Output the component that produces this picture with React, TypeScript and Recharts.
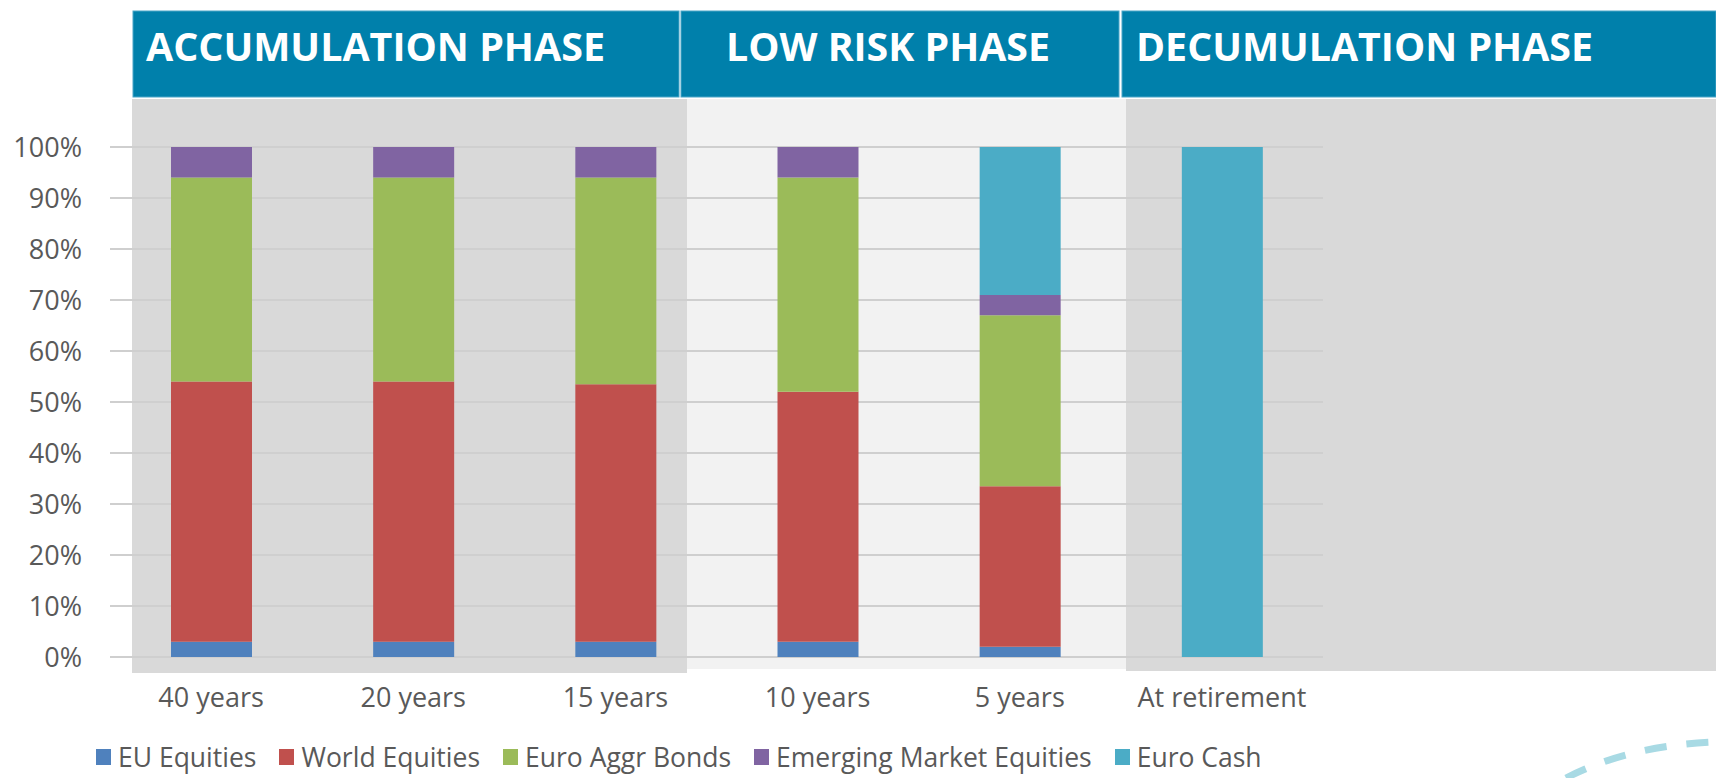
import React from 'react';
import { BarChart, Bar, XAxis, YAxis, CartesianGrid, Legend } from 'recharts';

const categories = ['40 years', '20 years', '15 years', '10 years', '5 years', 'At retirement'];
const euEquities = [3, 3, 3, 3, 2, 0];
const worldEquities = [51, 51, 50.5, 49, 31.5, 0];
const euroAggrBonds = [40, 40, 40.5, 42, 33.5, 0];
const emergingMarketEquities = [6, 6, 6, 6, 4, 0];
const euroCash = [0, 0, 0, 0, 29, 100];
const yTicks = [0, 10, 20, 30, 40, 50, 60, 70, 80, 90, 100];

const phases = [
    { label: 'ACCUMULATION PHASE', x: 133, w: 546, tx: 146, tw: 459 },
    { label: 'LOW RISK PHASE', x: 681, w: 438, tx: 726, tw: 324 },
    { label: 'DECUMULATION PHASE', x: 1122, w: 594, tx: 1136, tw: 457 },
];

const series = [
    { key: 'eu', name: 'EU Equities', color: '#4f81bd' },
    { key: 'world', name: 'World Equities', color: '#c0504d' },
    { key: 'bonds', name: 'Euro Aggr Bonds', color: '#9bbb59' },
    { key: 'em', name: 'Emerging Market Equities', color: '#8064a2' },
    { key: 'cash', name: 'Euro Cash', color: '#4bacc6' },
];

const data = categories.map((name, i) => ({
    name,
    eu: euEquities[i],
    world: worldEquities[i],
    bonds: euroAggrBonds[i],
    em: emergingMarketEquities[i],
    cash: euroCash[i],
}));

const FONT = '"Open Sans", sans-serif';

function LegendContent(props: any) {
    // keep the series order (recharts sorts the payload by name)
    const items = [...(props.payload || [])].sort(
        (a: any, b: any) => series.findIndex((s) => s.name === a.value) - series.findIndex((s) => s.name === b.value)
    );
    return (
        <div style={{ display: 'flex', alignItems: 'center', fontFamily: FONT, fontSize: 26.5, color: '#595959' }}>
            {items.map((p: any) => (
                <div key={p.value} style={{ display: 'flex', alignItems: 'center', marginRight: 23 }}>
                    <span style={{ display: 'inline-block', width: 15, height: 16, background: p.color, marginRight: 7 }} />
                    <span>{p.value}</span>
                </div>
            ))}
        </div>
    );
}

export default function App() {
    return (
        <div style={{ position: 'absolute', left: 0, top: 0, width: 1716, height: 778, background: '#fff', overflow: 'hidden' }}>
            {/* phase backgrounds and headers */}
            <svg width={1716} height={778} style={{ position: 'absolute', left: 0, top: 0 }}>
                <rect x={132} y={99} width={555} height={574} fill="#d9d9d9" />
                <rect x={687} y={99} width={439} height={570} fill="#f2f2f2" />
                <rect x={1126} y={99} width={590} height={572} fill="#d9d9d9" />
                {phases.map((p) => (
                    <g key={p.label}>
                        <rect x={p.x} y={11} width={p.w} height={86} fill="#0080ab" stroke="#4aa6c8" strokeWidth={1} />
                        <text
                            x={p.tx}
                            y={61}
                            fill="#fff"
                            fontFamily={FONT}
                            fontWeight={700}
                            fontSize={40}
                            textLength={p.tw}
                            lengthAdjust="spacingAndGlyphs"
                        >
                            {p.label}
                        </text>
                    </g>
                ))}
                <path d="M 1566 778 Q 1630 745 1716 742" fill="none" stroke="#a8dae4" strokeWidth={7} strokeDasharray="22 20" />
            </svg>
            <div style={{ position: 'absolute', left: 0, top: 0 }}>
                <BarChart width={1716} height={778} data={data} margin={{ top: 147, right: 393, left: 0, bottom: 61 }}>
                    <CartesianGrid vertical={false} stroke="#cfcfcf" strokeWidth={2} />
                    <XAxis
                        dataKey="name"
                        axisLine={false}
                        tickLine={false}
                        tickSize={0}
                        tickMargin={31}
                        height={60}
                        interval={0}
                        tick={{ fontSize: 27, fill: '#595959', fontFamily: FONT }}
                    />
                    <YAxis
                        width={110}
                        domain={[0, 100]}
                        ticks={yTicks}
                        axisLine={false}
                        tickLine={false}
                        tickSize={0}
                        tickMargin={28}
                        tickFormatter={(v) => `${v}%`}
                        tick={{ fontSize: 27, fill: '#595959', fontFamily: FONT }}
                    />
                    <Legend
                        layout="horizontal"
                        verticalAlign="middle"
                        align="center"
                        content={LegendContent}
                        wrapperStyle={{ left: 96, top: 739, width: 1300 }}
                    />
                    {series.map((s) => (
                        <Bar key={s.key} dataKey={s.key} name={s.name} stackId="a" fill={s.color} barSize={81} isAnimationActive={false} />
                    ))}
                </BarChart>
            </div>
        </div>
    );
}
